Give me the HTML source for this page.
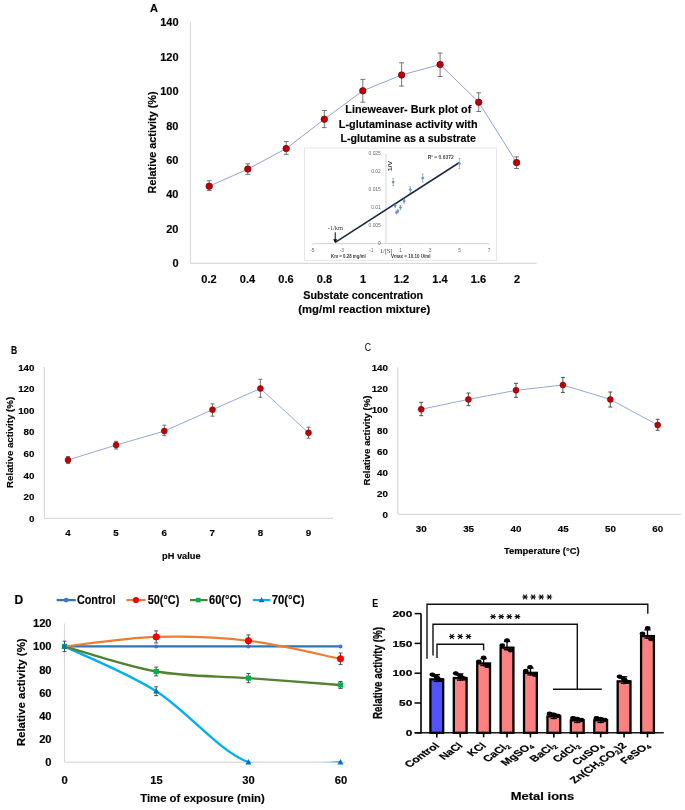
<!DOCTYPE html><html><head><meta charset="utf-8"><style>html,body{margin:0;padding:0;background:#fff;}svg{display:block;font-family:"Liberation Sans", sans-serif;filter:blur(0.35px);}</style></head><body>
<svg width="685" height="810" viewBox="0 0 685 810">
<rect width="685" height="810" fill="#fff"/>
<text x="150.00" y="12.30" font-size="11" text-anchor="start" font-weight="bold" fill="#000" stroke="#000" stroke-width="0.15">A</text>
<text x="178.50" y="267.20" font-size="11" text-anchor="end" font-weight="bold" fill="#000" stroke="#000" stroke-width="0.15">0</text>
<text x="178.50" y="232.80" font-size="11" text-anchor="end" font-weight="bold" fill="#000" stroke="#000" stroke-width="0.15">20</text>
<text x="178.50" y="198.40" font-size="11" text-anchor="end" font-weight="bold" fill="#000" stroke="#000" stroke-width="0.15">40</text>
<text x="178.50" y="164.00" font-size="11" text-anchor="end" font-weight="bold" fill="#000" stroke="#000" stroke-width="0.15">60</text>
<text x="178.50" y="129.60" font-size="11" text-anchor="end" font-weight="bold" fill="#000" stroke="#000" stroke-width="0.15">80</text>
<text x="178.50" y="95.20" font-size="11" text-anchor="end" font-weight="bold" fill="#000" stroke="#000" stroke-width="0.15">100</text>
<text x="178.50" y="60.80" font-size="11" text-anchor="end" font-weight="bold" fill="#000" stroke="#000" stroke-width="0.15">120</text>
<text x="178.50" y="26.40" font-size="11" text-anchor="end" font-weight="bold" fill="#000" stroke="#000" stroke-width="0.15">140</text>
<line x1="190.50" y1="22.00" x2="190.50" y2="263.30" stroke="#d9d9d9" stroke-width="1.2"/>
<line x1="190.50" y1="263.30" x2="536.50" y2="263.30" stroke="#d9d9d9" stroke-width="1.2"/>
<text x="209.00" y="282.80" font-size="11" text-anchor="middle" font-weight="bold" fill="#000" stroke="#000" stroke-width="0.15">0.2</text>
<text x="247.50" y="282.80" font-size="11" text-anchor="middle" font-weight="bold" fill="#000" stroke="#000" stroke-width="0.15">0.4</text>
<text x="286.00" y="282.80" font-size="11" text-anchor="middle" font-weight="bold" fill="#000" stroke="#000" stroke-width="0.15">0.6</text>
<text x="324.50" y="282.80" font-size="11" text-anchor="middle" font-weight="bold" fill="#000" stroke="#000" stroke-width="0.15">0.8</text>
<text x="363.00" y="282.80" font-size="11" text-anchor="middle" font-weight="bold" fill="#000" stroke="#000" stroke-width="0.15">1</text>
<text x="401.50" y="282.80" font-size="11" text-anchor="middle" font-weight="bold" fill="#000" stroke="#000" stroke-width="0.15">1.2</text>
<text x="440.00" y="282.80" font-size="11" text-anchor="middle" font-weight="bold" fill="#000" stroke="#000" stroke-width="0.15">1.4</text>
<text x="478.50" y="282.80" font-size="11" text-anchor="middle" font-weight="bold" fill="#000" stroke="#000" stroke-width="0.15">1.6</text>
<text x="517.00" y="282.80" font-size="11" text-anchor="middle" font-weight="bold" fill="#000" stroke="#000" stroke-width="0.15">2</text>
<text x="155.80" y="142.40" font-size="11.5" text-anchor="middle" font-weight="bold" fill="#000" textLength="102.00" lengthAdjust="spacingAndGlyphs" transform="rotate(-90 155.80 142.40)" stroke="#000" stroke-width="0.15">Relative activity (%)</text>
<text x="363.20" y="298.90" font-size="11.5" text-anchor="middle" font-weight="bold" fill="#000" textLength="120.00" lengthAdjust="spacingAndGlyphs" stroke="#000" stroke-width="0.15">Substate concentration</text>
<text x="364.30" y="312.70" font-size="11.5" text-anchor="middle" font-weight="bold" fill="#000" textLength="132.00" lengthAdjust="spacingAndGlyphs" stroke="#000" stroke-width="0.15">(mg/ml reaction mixture)</text>
<rect x="304.5" y="148" width="192" height="112.3" fill="#fff" stroke="#e6e6e6" stroke-width="1"/>
<line x1="386.00" y1="153.80" x2="386.00" y2="243.60" stroke="#d0d0d0" stroke-width="0.9"/>
<line x1="312.50" y1="243.60" x2="489.00" y2="243.60" stroke="#d0d0d0" stroke-width="0.9"/>
<line x1="312.40" y1="243.60" x2="312.40" y2="245.10" stroke="#d0d0d0" stroke-width="0.6"/>
<line x1="341.84" y1="243.60" x2="341.84" y2="245.10" stroke="#d0d0d0" stroke-width="0.6"/>
<line x1="371.28" y1="243.60" x2="371.28" y2="245.10" stroke="#d0d0d0" stroke-width="0.6"/>
<line x1="400.72" y1="243.60" x2="400.72" y2="245.10" stroke="#d0d0d0" stroke-width="0.6"/>
<line x1="430.16" y1="243.60" x2="430.16" y2="245.10" stroke="#d0d0d0" stroke-width="0.6"/>
<line x1="459.60" y1="243.60" x2="459.60" y2="245.10" stroke="#d0d0d0" stroke-width="0.6"/>
<line x1="489.04" y1="243.60" x2="489.04" y2="245.10" stroke="#d0d0d0" stroke-width="0.6"/>
<text x="380.80" y="244.85" font-size="4.9" text-anchor="end" font-weight="normal" fill="#6a6a6a">0</text>
<text x="380.80" y="226.85" font-size="4.9" text-anchor="end" font-weight="normal" fill="#6a6a6a">0.005</text>
<text x="380.80" y="208.85" font-size="4.9" text-anchor="end" font-weight="normal" fill="#6a6a6a">0.01</text>
<text x="380.80" y="190.85" font-size="4.9" text-anchor="end" font-weight="normal" fill="#6a6a6a">0.015</text>
<text x="380.80" y="172.85" font-size="4.9" text-anchor="end" font-weight="normal" fill="#6a6a6a">0.02</text>
<text x="380.80" y="154.85" font-size="4.9" text-anchor="end" font-weight="normal" fill="#6a6a6a">0.025</text>
<text x="312.40" y="252.20" font-size="4.9" text-anchor="middle" font-weight="normal" fill="#6a6a6a">-5</text>
<text x="341.84" y="252.20" font-size="4.9" text-anchor="middle" font-weight="normal" fill="#6a6a6a">-3</text>
<text x="371.28" y="252.20" font-size="4.9" text-anchor="middle" font-weight="normal" fill="#6a6a6a">-1</text>
<text x="400.72" y="252.20" font-size="4.9" text-anchor="middle" font-weight="normal" fill="#6a6a6a">1</text>
<text x="430.16" y="252.20" font-size="4.9" text-anchor="middle" font-weight="normal" fill="#6a6a6a">3</text>
<text x="459.60" y="252.20" font-size="4.9" text-anchor="middle" font-weight="normal" fill="#6a6a6a">5</text>
<text x="489.04" y="252.20" font-size="4.9" text-anchor="middle" font-weight="normal" fill="#6a6a6a">7</text>
<text x="386.20" y="253.20" font-size="6.0" text-anchor="middle" font-weight="normal" fill="#3a3a3a" textLength="12.30" lengthAdjust="spacingAndGlyphs" font-family="Liberation Serif">1/[S]</text>
<text x="392.30" y="166.10" font-size="6.0" text-anchor="middle" font-weight="bold" fill="#3a3a3a" textLength="10.50" lengthAdjust="spacingAndGlyphs" transform="rotate(-90 392.30 166.10)">1/V</text>
<text x="440.70" y="159.30" font-size="5.0" text-anchor="middle" font-weight="bold" fill="#4a4a4a" textLength="26.00" lengthAdjust="spacingAndGlyphs">R² = 0.6372</text>
<text x="335.40" y="230.00" font-size="6.0" text-anchor="middle" font-weight="normal" fill="#3a3a3a" textLength="15.30" lengthAdjust="spacingAndGlyphs" font-family="Liberation Serif">-1/km</text>
<text x="348.40" y="258.00" font-size="4.6" text-anchor="middle" font-weight="bold" fill="#3a3a3a" textLength="34.70" lengthAdjust="spacingAndGlyphs">Km = 0.28 mg/ml</text>
<text x="410.70" y="258.30" font-size="4.6" text-anchor="middle" font-weight="bold" fill="#3a3a3a" textLength="39.40" lengthAdjust="spacingAndGlyphs">Vmax = 10.10 U/ml</text>
<line x1="335.20" y1="232.30" x2="335.20" y2="240.20" stroke="#000" stroke-width="1.0"/>
<path d="M333.2,239.2 L337.2,239.2 L335.2,243.2 Z" fill="#000"/>
<line x1="393.20" y1="178.60" x2="393.20" y2="185.60" stroke="#808080" stroke-width="0.6"/>
<line x1="392.30" y1="178.60" x2="394.10" y2="178.60" stroke="#808080" stroke-width="0.6"/>
<line x1="392.30" y1="185.60" x2="394.10" y2="185.60" stroke="#808080" stroke-width="0.6"/>
<line x1="395.20" y1="203.80" x2="395.20" y2="207.40" stroke="#808080" stroke-width="0.6"/>
<line x1="394.30" y1="203.80" x2="396.10" y2="203.80" stroke="#808080" stroke-width="0.6"/>
<line x1="394.30" y1="207.40" x2="396.10" y2="207.40" stroke="#808080" stroke-width="0.6"/>
<line x1="396.50" y1="210.90" x2="396.50" y2="213.90" stroke="#808080" stroke-width="0.6"/>
<line x1="395.60" y1="210.90" x2="397.40" y2="210.90" stroke="#808080" stroke-width="0.6"/>
<line x1="395.60" y1="213.90" x2="397.40" y2="213.90" stroke="#808080" stroke-width="0.6"/>
<line x1="397.80" y1="209.70" x2="397.80" y2="212.70" stroke="#808080" stroke-width="0.6"/>
<line x1="396.90" y1="209.70" x2="398.70" y2="209.70" stroke="#808080" stroke-width="0.6"/>
<line x1="396.90" y1="212.70" x2="398.70" y2="212.70" stroke="#808080" stroke-width="0.6"/>
<line x1="400.50" y1="205.40" x2="400.50" y2="209.40" stroke="#808080" stroke-width="0.6"/>
<line x1="399.60" y1="205.40" x2="401.40" y2="205.40" stroke="#808080" stroke-width="0.6"/>
<line x1="399.60" y1="209.40" x2="401.40" y2="209.40" stroke="#808080" stroke-width="0.6"/>
<line x1="404.10" y1="198.80" x2="404.10" y2="203.20" stroke="#808080" stroke-width="0.6"/>
<line x1="403.20" y1="198.80" x2="405.00" y2="198.80" stroke="#808080" stroke-width="0.6"/>
<line x1="403.20" y1="203.20" x2="405.00" y2="203.20" stroke="#808080" stroke-width="0.6"/>
<line x1="410.30" y1="186.70" x2="410.30" y2="192.70" stroke="#808080" stroke-width="0.6"/>
<line x1="409.40" y1="186.70" x2="411.20" y2="186.70" stroke="#808080" stroke-width="0.6"/>
<line x1="409.40" y1="192.70" x2="411.20" y2="192.70" stroke="#808080" stroke-width="0.6"/>
<line x1="422.70" y1="174.00" x2="422.70" y2="182.00" stroke="#808080" stroke-width="0.6"/>
<line x1="421.80" y1="174.00" x2="423.60" y2="174.00" stroke="#808080" stroke-width="0.6"/>
<line x1="421.80" y1="182.00" x2="423.60" y2="182.00" stroke="#808080" stroke-width="0.6"/>
<line x1="459.40" y1="158.40" x2="459.40" y2="168.40" stroke="#808080" stroke-width="0.6"/>
<line x1="458.50" y1="158.40" x2="460.30" y2="158.40" stroke="#808080" stroke-width="0.6"/>
<line x1="458.50" y1="168.40" x2="460.30" y2="168.40" stroke="#808080" stroke-width="0.6"/>
<line x1="335.20" y1="242.40" x2="459.40" y2="162.50" stroke="#1c2a40" stroke-width="1.6"/>
<rect x="392.00" y="180.90" width="2.4" height="2.4" fill="#5b9bd5" transform="rotate(45 393.20 182.10)"/>
<rect x="394.00" y="204.40" width="2.4" height="2.4" fill="#5b9bd5" transform="rotate(45 395.20 205.60)"/>
<rect x="395.30" y="211.20" width="2.4" height="2.4" fill="#5b9bd5" transform="rotate(45 396.50 212.40)"/>
<rect x="396.60" y="210.00" width="2.4" height="2.4" fill="#5b9bd5" transform="rotate(45 397.80 211.20)"/>
<rect x="399.30" y="206.20" width="2.4" height="2.4" fill="#5b9bd5" transform="rotate(45 400.50 207.40)"/>
<rect x="402.90" y="199.80" width="2.4" height="2.4" fill="#5b9bd5" transform="rotate(45 404.10 201.00)"/>
<rect x="409.10" y="188.50" width="2.4" height="2.4" fill="#5b9bd5" transform="rotate(45 410.30 189.70)"/>
<rect x="421.50" y="176.80" width="2.4" height="2.4" fill="#5b9bd5" transform="rotate(45 422.70 178.00)"/>
<rect x="458.20" y="162.20" width="2.4" height="2.4" fill="#5b9bd5" transform="rotate(45 459.40 163.40)"/>
<polyline points="209.20,186.20 247.80,169.10 286.20,148.60 324.30,119.20 362.80,90.80 401.60,75.00 440.10,64.50 478.70,102.20 516.60,162.60" fill="none" stroke="#8ea3d4" stroke-width="1.0" stroke-linejoin="round"/>
<line x1="209.20" y1="180.70" x2="209.20" y2="190.60" stroke="#666666" stroke-width="0.9"/>
<line x1="206.80" y1="180.70" x2="211.60" y2="180.70" stroke="#666666" stroke-width="0.9"/>
<line x1="206.80" y1="190.60" x2="211.60" y2="190.60" stroke="#666666" stroke-width="0.9"/>
<line x1="247.80" y1="163.80" x2="247.80" y2="174.40" stroke="#666666" stroke-width="0.9"/>
<line x1="245.40" y1="163.80" x2="250.20" y2="163.80" stroke="#666666" stroke-width="0.9"/>
<line x1="245.40" y1="174.40" x2="250.20" y2="174.40" stroke="#666666" stroke-width="0.9"/>
<line x1="286.20" y1="141.50" x2="286.20" y2="154.40" stroke="#666666" stroke-width="0.9"/>
<line x1="283.80" y1="141.50" x2="288.60" y2="141.50" stroke="#666666" stroke-width="0.9"/>
<line x1="283.80" y1="154.40" x2="288.60" y2="154.40" stroke="#666666" stroke-width="0.9"/>
<line x1="324.30" y1="110.50" x2="324.30" y2="127.60" stroke="#666666" stroke-width="0.9"/>
<line x1="321.90" y1="110.50" x2="326.70" y2="110.50" stroke="#666666" stroke-width="0.9"/>
<line x1="321.90" y1="127.60" x2="326.70" y2="127.60" stroke="#666666" stroke-width="0.9"/>
<line x1="362.80" y1="79.40" x2="362.80" y2="102.20" stroke="#666666" stroke-width="0.9"/>
<line x1="360.40" y1="79.40" x2="365.20" y2="79.40" stroke="#666666" stroke-width="0.9"/>
<line x1="360.40" y1="102.20" x2="365.20" y2="102.20" stroke="#666666" stroke-width="0.9"/>
<line x1="401.60" y1="62.80" x2="401.60" y2="86.10" stroke="#666666" stroke-width="0.9"/>
<line x1="399.20" y1="62.80" x2="404.00" y2="62.80" stroke="#666666" stroke-width="0.9"/>
<line x1="399.20" y1="86.10" x2="404.00" y2="86.10" stroke="#666666" stroke-width="0.9"/>
<line x1="440.10" y1="53.10" x2="440.10" y2="76.50" stroke="#666666" stroke-width="0.9"/>
<line x1="437.70" y1="53.10" x2="442.50" y2="53.10" stroke="#666666" stroke-width="0.9"/>
<line x1="437.70" y1="76.50" x2="442.50" y2="76.50" stroke="#666666" stroke-width="0.9"/>
<line x1="478.70" y1="92.80" x2="478.70" y2="111.50" stroke="#666666" stroke-width="0.9"/>
<line x1="476.30" y1="92.80" x2="481.10" y2="92.80" stroke="#666666" stroke-width="0.9"/>
<line x1="476.30" y1="111.50" x2="481.10" y2="111.50" stroke="#666666" stroke-width="0.9"/>
<line x1="516.60" y1="156.80" x2="516.60" y2="168.50" stroke="#666666" stroke-width="0.9"/>
<line x1="514.20" y1="156.80" x2="519.00" y2="156.80" stroke="#666666" stroke-width="0.9"/>
<line x1="514.20" y1="168.50" x2="519.00" y2="168.50" stroke="#666666" stroke-width="0.9"/>
<circle cx="209.20" cy="186.20" r="3.25" fill="#c00000" stroke="#6a0010" stroke-width="0.7"/>
<circle cx="247.80" cy="169.10" r="3.25" fill="#c00000" stroke="#6a0010" stroke-width="0.7"/>
<circle cx="286.20" cy="148.60" r="3.25" fill="#c00000" stroke="#6a0010" stroke-width="0.7"/>
<circle cx="324.30" cy="119.20" r="3.25" fill="#c00000" stroke="#6a0010" stroke-width="0.7"/>
<circle cx="362.80" cy="90.80" r="3.25" fill="#c00000" stroke="#6a0010" stroke-width="0.7"/>
<circle cx="401.60" cy="75.00" r="3.25" fill="#c00000" stroke="#6a0010" stroke-width="0.7"/>
<circle cx="440.10" cy="64.50" r="3.25" fill="#c00000" stroke="#6a0010" stroke-width="0.7"/>
<circle cx="478.70" cy="102.20" r="3.25" fill="#c00000" stroke="#6a0010" stroke-width="0.7"/>
<circle cx="516.60" cy="162.60" r="3.25" fill="#c00000" stroke="#6a0010" stroke-width="0.7"/>
<text x="408.30" y="112.50" font-size="11.5" text-anchor="middle" font-weight="bold" fill="#000" textLength="126.00" lengthAdjust="spacingAndGlyphs" stroke="#000" stroke-width="0.15">Lineweaver- Burk plot of</text>
<text x="408.20" y="127.70" font-size="11.5" text-anchor="middle" font-weight="bold" fill="#000" textLength="138.70" lengthAdjust="spacingAndGlyphs" stroke="#000" stroke-width="0.15">L-glutaminase activity with</text>
<text x="408.20" y="141.70" font-size="11.5" text-anchor="middle" font-weight="bold" fill="#000" textLength="135.50" lengthAdjust="spacingAndGlyphs" stroke="#000" stroke-width="0.15">L-glutamine as a substrate</text>
<text x="11.10" y="353.80" font-size="11.2" text-anchor="start" font-weight="bold" fill="#000" textLength="6.20" lengthAdjust="spacingAndGlyphs" stroke="#000" stroke-width="0.15">B</text>
<text x="34.50" y="521.80" font-size="9.8" text-anchor="end" font-weight="bold" fill="#000" stroke="#000" stroke-width="0.15">0</text>
<text x="34.50" y="500.20" font-size="9.8" text-anchor="end" font-weight="bold" fill="#000" stroke="#000" stroke-width="0.15">20</text>
<text x="34.50" y="478.60" font-size="9.8" text-anchor="end" font-weight="bold" fill="#000" stroke="#000" stroke-width="0.15">40</text>
<text x="34.50" y="457.00" font-size="9.8" text-anchor="end" font-weight="bold" fill="#000" stroke="#000" stroke-width="0.15">60</text>
<text x="34.50" y="435.40" font-size="9.8" text-anchor="end" font-weight="bold" fill="#000" stroke="#000" stroke-width="0.15">80</text>
<text x="34.50" y="413.80" font-size="9.8" text-anchor="end" font-weight="bold" fill="#000" stroke="#000" stroke-width="0.15">100</text>
<text x="34.50" y="392.20" font-size="9.8" text-anchor="end" font-weight="bold" fill="#000" stroke="#000" stroke-width="0.15">120</text>
<text x="34.50" y="370.60" font-size="9.8" text-anchor="end" font-weight="bold" fill="#000" stroke="#000" stroke-width="0.15">140</text>
<line x1="44.40" y1="367.00" x2="44.40" y2="518.30" stroke="#d9d9d9" stroke-width="1.2"/>
<line x1="44.40" y1="518.30" x2="333.00" y2="518.30" stroke="#d9d9d9" stroke-width="1.2"/>
<text x="68.00" y="536.10" font-size="9.8" text-anchor="middle" font-weight="bold" fill="#000" stroke="#000" stroke-width="0.15">4</text>
<text x="116.10" y="536.10" font-size="9.8" text-anchor="middle" font-weight="bold" fill="#000" stroke="#000" stroke-width="0.15">5</text>
<text x="164.20" y="536.10" font-size="9.8" text-anchor="middle" font-weight="bold" fill="#000" stroke="#000" stroke-width="0.15">6</text>
<text x="212.30" y="536.10" font-size="9.8" text-anchor="middle" font-weight="bold" fill="#000" stroke="#000" stroke-width="0.15">7</text>
<text x="260.40" y="536.10" font-size="9.8" text-anchor="middle" font-weight="bold" fill="#000" stroke="#000" stroke-width="0.15">8</text>
<text x="308.50" y="536.10" font-size="9.8" text-anchor="middle" font-weight="bold" fill="#000" stroke="#000" stroke-width="0.15">9</text>
<text x="181.30" y="558.80" font-size="9.8" text-anchor="middle" font-weight="bold" fill="#000" textLength="38.50" lengthAdjust="spacingAndGlyphs" stroke="#000" stroke-width="0.15">pH value</text>
<text x="12.80" y="442.40" font-size="9.5" text-anchor="middle" font-weight="bold" fill="#000" textLength="91.00" lengthAdjust="spacingAndGlyphs" transform="rotate(-90 12.80 442.40)" stroke="#000" stroke-width="0.15">Relative activity (%)</text>
<polyline points="68.00,460.00 116.10,445.10 164.30,431.10 212.50,409.70 260.40,388.50 308.50,432.80" fill="none" stroke="#8ea3d4" stroke-width="0.95" stroke-linejoin="round"/>
<line x1="68.00" y1="456.50" x2="68.00" y2="463.50" stroke="#666666" stroke-width="0.9"/>
<line x1="66.00" y1="456.50" x2="70.00" y2="456.50" stroke="#666666" stroke-width="0.9"/>
<line x1="66.00" y1="463.50" x2="70.00" y2="463.50" stroke="#666666" stroke-width="0.9"/>
<line x1="116.10" y1="441.30" x2="116.10" y2="449.00" stroke="#666666" stroke-width="0.9"/>
<line x1="114.10" y1="441.30" x2="118.10" y2="441.30" stroke="#666666" stroke-width="0.9"/>
<line x1="114.10" y1="449.00" x2="118.10" y2="449.00" stroke="#666666" stroke-width="0.9"/>
<line x1="164.30" y1="425.20" x2="164.30" y2="435.70" stroke="#666666" stroke-width="0.9"/>
<line x1="162.30" y1="425.20" x2="166.30" y2="425.20" stroke="#666666" stroke-width="0.9"/>
<line x1="162.30" y1="435.70" x2="166.30" y2="435.70" stroke="#666666" stroke-width="0.9"/>
<line x1="212.50" y1="403.90" x2="212.50" y2="416.20" stroke="#666666" stroke-width="0.9"/>
<line x1="210.50" y1="403.90" x2="214.50" y2="403.90" stroke="#666666" stroke-width="0.9"/>
<line x1="210.50" y1="416.20" x2="214.50" y2="416.20" stroke="#666666" stroke-width="0.9"/>
<line x1="260.40" y1="379.30" x2="260.40" y2="397.30" stroke="#666666" stroke-width="0.9"/>
<line x1="258.40" y1="379.30" x2="262.40" y2="379.30" stroke="#666666" stroke-width="0.9"/>
<line x1="258.40" y1="397.30" x2="262.40" y2="397.30" stroke="#666666" stroke-width="0.9"/>
<line x1="308.50" y1="427.20" x2="308.50" y2="438.20" stroke="#666666" stroke-width="0.9"/>
<line x1="306.50" y1="427.20" x2="310.50" y2="427.20" stroke="#666666" stroke-width="0.9"/>
<line x1="306.50" y1="438.20" x2="310.50" y2="438.20" stroke="#666666" stroke-width="0.9"/>
<circle cx="68.00" cy="460.00" r="3.0" fill="#c00000" stroke="#6a0010" stroke-width="0.5"/>
<circle cx="116.10" cy="445.10" r="3.0" fill="#c00000" stroke="#6a0010" stroke-width="0.5"/>
<circle cx="164.30" cy="431.10" r="3.0" fill="#c00000" stroke="#6a0010" stroke-width="0.5"/>
<circle cx="212.50" cy="409.70" r="3.0" fill="#c00000" stroke="#6a0010" stroke-width="0.5"/>
<circle cx="260.40" cy="388.50" r="3.0" fill="#c00000" stroke="#6a0010" stroke-width="0.5"/>
<circle cx="308.50" cy="432.80" r="3.0" fill="#c00000" stroke="#6a0010" stroke-width="0.5"/>
<text x="364.80" y="350.90" font-size="11.2" text-anchor="start" font-weight="normal" fill="#000" textLength="6.30" lengthAdjust="spacingAndGlyphs">C</text>
<text x="388.00" y="517.80" font-size="9.8" text-anchor="end" font-weight="bold" fill="#000" stroke="#000" stroke-width="0.15">0</text>
<text x="388.00" y="496.80" font-size="9.8" text-anchor="end" font-weight="bold" fill="#000" stroke="#000" stroke-width="0.15">20</text>
<text x="388.00" y="475.80" font-size="9.8" text-anchor="end" font-weight="bold" fill="#000" stroke="#000" stroke-width="0.15">40</text>
<text x="388.00" y="454.80" font-size="9.8" text-anchor="end" font-weight="bold" fill="#000" stroke="#000" stroke-width="0.15">60</text>
<text x="388.00" y="433.80" font-size="9.8" text-anchor="end" font-weight="bold" fill="#000" stroke="#000" stroke-width="0.15">80</text>
<text x="388.00" y="412.80" font-size="9.8" text-anchor="end" font-weight="bold" fill="#000" stroke="#000" stroke-width="0.15">100</text>
<text x="388.00" y="391.80" font-size="9.8" text-anchor="end" font-weight="bold" fill="#000" stroke="#000" stroke-width="0.15">120</text>
<text x="388.00" y="370.80" font-size="9.8" text-anchor="end" font-weight="bold" fill="#000" stroke="#000" stroke-width="0.15">140</text>
<line x1="397.80" y1="367.30" x2="397.80" y2="514.30" stroke="#d9d9d9" stroke-width="1.2"/>
<line x1="397.80" y1="514.30" x2="681.00" y2="514.30" stroke="#d9d9d9" stroke-width="1.2"/>
<text x="421.30" y="532.00" font-size="9.8" text-anchor="middle" font-weight="bold" fill="#000" stroke="#000" stroke-width="0.15">30</text>
<text x="468.60" y="532.00" font-size="9.8" text-anchor="middle" font-weight="bold" fill="#000" stroke="#000" stroke-width="0.15">35</text>
<text x="515.90" y="532.00" font-size="9.8" text-anchor="middle" font-weight="bold" fill="#000" stroke="#000" stroke-width="0.15">40</text>
<text x="563.20" y="532.00" font-size="9.8" text-anchor="middle" font-weight="bold" fill="#000" stroke="#000" stroke-width="0.15">45</text>
<text x="610.50" y="532.00" font-size="9.8" text-anchor="middle" font-weight="bold" fill="#000" stroke="#000" stroke-width="0.15">50</text>
<text x="657.80" y="532.00" font-size="9.8" text-anchor="middle" font-weight="bold" fill="#000" stroke="#000" stroke-width="0.15">60</text>
<text x="541.80" y="553.50" font-size="9.8" text-anchor="middle" font-weight="bold" fill="#000" textLength="75.70" lengthAdjust="spacingAndGlyphs" stroke="#000" stroke-width="0.15">Temperature (°C)</text>
<text x="369.60" y="440.50" font-size="9.5" text-anchor="middle" font-weight="bold" fill="#000" textLength="90.00" lengthAdjust="spacingAndGlyphs" transform="rotate(-90 369.60 440.50)" stroke="#000" stroke-width="0.15">Relative activity (%)</text>
<polyline points="421.20,409.30 468.40,399.40 516.00,390.30 562.90,385.00 610.30,399.40 657.70,425.00" fill="none" stroke="#8ea3d4" stroke-width="0.95" stroke-linejoin="round"/>
<line x1="421.20" y1="402.30" x2="421.20" y2="415.70" stroke="#404040" stroke-width="0.9"/>
<line x1="419.20" y1="402.30" x2="423.20" y2="402.30" stroke="#404040" stroke-width="0.9"/>
<line x1="419.20" y1="415.70" x2="423.20" y2="415.70" stroke="#404040" stroke-width="0.9"/>
<line x1="468.40" y1="393.00" x2="468.40" y2="405.70" stroke="#404040" stroke-width="0.9"/>
<line x1="466.40" y1="393.00" x2="470.40" y2="393.00" stroke="#404040" stroke-width="0.9"/>
<line x1="466.40" y1="405.70" x2="470.40" y2="405.70" stroke="#404040" stroke-width="0.9"/>
<line x1="516.00" y1="383.30" x2="516.00" y2="397.30" stroke="#404040" stroke-width="0.9"/>
<line x1="514.00" y1="383.30" x2="518.00" y2="383.30" stroke="#404040" stroke-width="0.9"/>
<line x1="514.00" y1="397.30" x2="518.00" y2="397.30" stroke="#404040" stroke-width="0.9"/>
<line x1="562.90" y1="377.40" x2="562.90" y2="392.40" stroke="#404040" stroke-width="0.9"/>
<line x1="560.90" y1="377.40" x2="564.90" y2="377.40" stroke="#404040" stroke-width="0.9"/>
<line x1="560.90" y1="392.40" x2="564.90" y2="392.40" stroke="#404040" stroke-width="0.9"/>
<line x1="610.30" y1="392.00" x2="610.30" y2="407.00" stroke="#404040" stroke-width="0.9"/>
<line x1="608.30" y1="392.00" x2="612.30" y2="392.00" stroke="#404040" stroke-width="0.9"/>
<line x1="608.30" y1="407.00" x2="612.30" y2="407.00" stroke="#404040" stroke-width="0.9"/>
<line x1="657.70" y1="419.30" x2="657.70" y2="430.30" stroke="#404040" stroke-width="0.9"/>
<line x1="655.70" y1="419.30" x2="659.70" y2="419.30" stroke="#404040" stroke-width="0.9"/>
<line x1="655.70" y1="430.30" x2="659.70" y2="430.30" stroke="#404040" stroke-width="0.9"/>
<circle cx="421.20" cy="409.30" r="3.0" fill="#c00000" stroke="#6a0010" stroke-width="0.5"/>
<circle cx="468.40" cy="399.40" r="3.0" fill="#c00000" stroke="#6a0010" stroke-width="0.5"/>
<circle cx="516.00" cy="390.30" r="3.0" fill="#c00000" stroke="#6a0010" stroke-width="0.5"/>
<circle cx="562.90" cy="385.00" r="3.0" fill="#c00000" stroke="#6a0010" stroke-width="0.5"/>
<circle cx="610.30" cy="399.40" r="3.0" fill="#c00000" stroke="#6a0010" stroke-width="0.5"/>
<circle cx="657.70" cy="425.00" r="3.0" fill="#c00000" stroke="#6a0010" stroke-width="0.5"/>
<text x="14.40" y="604.10" font-size="12" text-anchor="start" font-weight="bold" fill="#000" stroke="#000" stroke-width="0.15">D</text>
<line x1="56.60" y1="600.10" x2="75.70" y2="600.10" stroke="#2e75b6" stroke-width="2.3"/>
<circle cx="66.20" cy="600.10" r="2.3" fill="#4472c4"/>
<text x="76.90" y="604.10" font-size="12" text-anchor="start" font-weight="bold" fill="#000" textLength="38.50" lengthAdjust="spacingAndGlyphs" stroke="#000" stroke-width="0.15">Control</text>
<line x1="126.40" y1="600.10" x2="145.70" y2="600.10" stroke="#ed7d31" stroke-width="2.2"/>
<circle cx="136.00" cy="600.10" r="2.8" fill="#ff0000" stroke="#c00000" stroke-width="0.6"/>
<text x="147.70" y="604.10" font-size="12" text-anchor="start" font-weight="bold" fill="#000" textLength="31.60" lengthAdjust="spacingAndGlyphs" stroke="#000" stroke-width="0.15">50(°C)</text>
<line x1="190.00" y1="600.10" x2="207.60" y2="600.10" stroke="#548235" stroke-width="2.2"/>
<rect x="195.90" y="597.80" width="4.6" height="4.6" fill="#00b050"/>
<text x="209.00" y="604.10" font-size="12" text-anchor="start" font-weight="bold" fill="#000" textLength="32.20" lengthAdjust="spacingAndGlyphs" stroke="#000" stroke-width="0.15">60(°C)</text>
<line x1="252.80" y1="600.10" x2="270.40" y2="600.10" stroke="#00b0f0" stroke-width="2.2"/>
<path d="M261.6,597.30 L264.6,602.30 L258.6,602.30 Z" fill="#0070c0"/>
<text x="271.80" y="604.10" font-size="12" text-anchor="start" font-weight="bold" fill="#000" textLength="32.70" lengthAdjust="spacingAndGlyphs" stroke="#000" stroke-width="0.15">70(°C)</text>
<text x="51.60" y="766.20" font-size="11.2" text-anchor="end" font-weight="bold" fill="#000" stroke="#000" stroke-width="0.15">0</text>
<text x="51.60" y="743.04" font-size="11.2" text-anchor="end" font-weight="bold" fill="#000" stroke="#000" stroke-width="0.15">20</text>
<text x="51.60" y="719.88" font-size="11.2" text-anchor="end" font-weight="bold" fill="#000" stroke="#000" stroke-width="0.15">40</text>
<text x="51.60" y="696.72" font-size="11.2" text-anchor="end" font-weight="bold" fill="#000" stroke="#000" stroke-width="0.15">60</text>
<text x="51.60" y="673.56" font-size="11.2" text-anchor="end" font-weight="bold" fill="#000" stroke="#000" stroke-width="0.15">80</text>
<text x="51.60" y="650.40" font-size="11.2" text-anchor="end" font-weight="bold" fill="#000" stroke="#000" stroke-width="0.15">100</text>
<text x="51.60" y="627.24" font-size="11.2" text-anchor="end" font-weight="bold" fill="#000" stroke="#000" stroke-width="0.15">120</text>
<line x1="64.50" y1="623.50" x2="64.50" y2="762.20" stroke="#d9d9d9" stroke-width="1.2"/>
<line x1="64.50" y1="762.20" x2="345.00" y2="762.20" stroke="#d9d9d9" stroke-width="1.2"/>
<text x="64.60" y="783.60" font-size="11.2" text-anchor="middle" font-weight="bold" fill="#000" stroke="#000" stroke-width="0.15">0</text>
<text x="156.60" y="783.60" font-size="11.2" text-anchor="middle" font-weight="bold" fill="#000" stroke="#000" stroke-width="0.15">15</text>
<text x="248.40" y="783.60" font-size="11.2" text-anchor="middle" font-weight="bold" fill="#000" stroke="#000" stroke-width="0.15">30</text>
<text x="340.90" y="783.60" font-size="11.2" text-anchor="middle" font-weight="bold" fill="#000" stroke="#000" stroke-width="0.15">60</text>
<text x="202.50" y="802.00" font-size="11.5" text-anchor="middle" font-weight="bold" fill="#000" textLength="124.60" lengthAdjust="spacingAndGlyphs" stroke="#000" stroke-width="0.15">Time of exposure (min)</text>
<text x="25.20" y="692.30" font-size="11.5" text-anchor="middle" font-weight="bold" fill="#000" textLength="108.00" lengthAdjust="spacingAndGlyphs" transform="rotate(-90 25.20 692.30)" stroke="#000" stroke-width="0.15">Relative activity (%)</text>
<defs><clipPath id="clipD"><rect x="40" y="615" width="305" height="147.2"/></clipPath></defs>
<g clip-path="url(#clipD)">
<path d="M64.50,646.40 C79.78,653.87 125.55,671.91 156.20,691.21 C186.85,710.51 217.68,750.37 248.40,762.20 C279.12,774.03 325.15,762.20 340.50,762.20" fill="none" stroke="#00b0f0" stroke-width="2.4" stroke-linecap="round"/>
<path d="M64.50,646.40 C79.78,650.59 125.55,666.24 156.20,671.53 C186.85,676.82 217.68,675.89 248.40,678.13 C279.12,680.37 325.15,683.82 340.50,684.96" fill="none" stroke="#548235" stroke-width="2.4" stroke-linecap="round"/>
<line x1="64.50" y1="646.40" x2="340.50" y2="646.40" stroke="#2e75b6" stroke-width="2.4"/>
<path d="M64.50,646.40 C79.78,644.82 125.55,637.85 156.20,636.90 C186.85,635.96 217.68,637.08 248.40,640.73 C279.12,644.37 325.15,655.78 340.50,658.79" fill="none" stroke="#ed7d31" stroke-width="2.2" stroke-linecap="round"/>
</g>
<line x1="156.20" y1="630.88" x2="156.20" y2="642.93" stroke="#404040" stroke-width="0.9"/>
<line x1="154.20" y1="630.88" x2="158.20" y2="630.88" stroke="#404040" stroke-width="0.9"/>
<line x1="154.20" y1="642.93" x2="158.20" y2="642.93" stroke="#404040" stroke-width="0.9"/>
<line x1="248.40" y1="634.94" x2="248.40" y2="646.52" stroke="#404040" stroke-width="0.9"/>
<line x1="246.40" y1="634.94" x2="250.40" y2="634.94" stroke="#404040" stroke-width="0.9"/>
<line x1="246.40" y1="646.52" x2="250.40" y2="646.52" stroke="#404040" stroke-width="0.9"/>
<line x1="340.50" y1="653.00" x2="340.50" y2="664.58" stroke="#404040" stroke-width="0.9"/>
<line x1="338.50" y1="653.00" x2="342.50" y2="653.00" stroke="#404040" stroke-width="0.9"/>
<line x1="338.50" y1="664.58" x2="342.50" y2="664.58" stroke="#404040" stroke-width="0.9"/>
<line x1="156.20" y1="667.13" x2="156.20" y2="675.93" stroke="#404040" stroke-width="0.9"/>
<line x1="154.20" y1="667.13" x2="158.20" y2="667.13" stroke="#404040" stroke-width="0.9"/>
<line x1="154.20" y1="675.93" x2="158.20" y2="675.93" stroke="#404040" stroke-width="0.9"/>
<line x1="248.40" y1="673.50" x2="248.40" y2="682.76" stroke="#404040" stroke-width="0.9"/>
<line x1="246.40" y1="673.50" x2="250.40" y2="673.50" stroke="#404040" stroke-width="0.9"/>
<line x1="246.40" y1="682.76" x2="250.40" y2="682.76" stroke="#404040" stroke-width="0.9"/>
<line x1="340.50" y1="681.49" x2="340.50" y2="688.44" stroke="#404040" stroke-width="0.9"/>
<line x1="338.50" y1="681.49" x2="342.50" y2="681.49" stroke="#404040" stroke-width="0.9"/>
<line x1="338.50" y1="688.44" x2="342.50" y2="688.44" stroke="#404040" stroke-width="0.9"/>
<line x1="156.20" y1="686.81" x2="156.20" y2="695.62" stroke="#404040" stroke-width="0.9"/>
<line x1="154.20" y1="686.81" x2="158.20" y2="686.81" stroke="#404040" stroke-width="0.9"/>
<line x1="154.20" y1="695.62" x2="158.20" y2="695.62" stroke="#404040" stroke-width="0.9"/>
<line x1="64.50" y1="641.19" x2="64.50" y2="651.61" stroke="#404040" stroke-width="0.9"/>
<line x1="62.50" y1="641.19" x2="66.50" y2="641.19" stroke="#404040" stroke-width="0.9"/>
<line x1="62.50" y1="651.61" x2="66.50" y2="651.61" stroke="#404040" stroke-width="0.9"/>
<circle cx="64.50" cy="646.40" r="2.0" fill="#4472c4"/>
<circle cx="156.20" cy="646.40" r="2.0" fill="#4472c4"/>
<circle cx="248.40" cy="646.40" r="2.0" fill="#4472c4"/>
<circle cx="340.50" cy="646.40" r="2.0" fill="#4472c4"/>
<circle cx="156.20" cy="636.90" r="3.2" fill="#ff0000" stroke="#c00000" stroke-width="0.7"/>
<circle cx="248.40" cy="640.73" r="3.2" fill="#ff0000" stroke="#c00000" stroke-width="0.7"/>
<circle cx="340.50" cy="658.79" r="3.2" fill="#ff0000" stroke="#c00000" stroke-width="0.7"/>
<rect x="61.90" y="643.80" width="5.2" height="5.2" fill="#00b050"/>
<rect x="153.60" y="668.93" width="5.2" height="5.2" fill="#00b050"/>
<rect x="245.80" y="675.53" width="5.2" height="5.2" fill="#00b050"/>
<rect x="337.90" y="682.36" width="5.2" height="5.2" fill="#00b050"/>
<path d="M64.50,643.20 L67.50,648.60 L61.50,648.60 Z" fill="#0070c0"/>
<path d="M156.20,688.01 L159.20,693.41 L153.20,693.41 Z" fill="#0070c0"/>
<path d="M248.40,759.00 L251.40,764.40 L245.40,764.40 Z" fill="#0070c0"/>
<path d="M340.50,759.00 L343.50,764.40 L337.50,764.40 Z" fill="#0070c0"/>
<text x="372.20" y="607.30" font-size="10.9" text-anchor="start" font-weight="bold" fill="#000" textLength="5.90" lengthAdjust="spacingAndGlyphs" stroke="#000" stroke-width="0.15">E</text>
<line x1="421.00" y1="613.60" x2="421.00" y2="733.70" stroke="#000" stroke-width="1.6"/>
<line x1="414.60" y1="732.80" x2="663.80" y2="732.80" stroke="#1a1a1a" stroke-width="1.6"/>
<line x1="414.60" y1="732.80" x2="421.00" y2="732.80" stroke="#000" stroke-width="1.5"/>
<text x="0" y="0" font-size="9.0" text-anchor="end" font-weight="bold" fill="#000" stroke="#000" stroke-width="0.2" transform="translate(412.30 736.05) scale(1.32 1)">0</text>
<line x1="414.60" y1="703.00" x2="421.00" y2="703.00" stroke="#000" stroke-width="1.5"/>
<text x="0" y="0" font-size="9.0" text-anchor="end" font-weight="bold" fill="#000" stroke="#000" stroke-width="0.2" transform="translate(412.30 706.25) scale(1.32 1)">50</text>
<line x1="414.60" y1="673.20" x2="421.00" y2="673.20" stroke="#000" stroke-width="1.5"/>
<text x="0" y="0" font-size="9.0" text-anchor="end" font-weight="bold" fill="#000" stroke="#000" stroke-width="0.2" transform="translate(412.30 676.45) scale(1.32 1)">100</text>
<line x1="414.60" y1="643.40" x2="421.00" y2="643.40" stroke="#000" stroke-width="1.5"/>
<text x="0" y="0" font-size="9.0" text-anchor="end" font-weight="bold" fill="#000" stroke="#000" stroke-width="0.2" transform="translate(412.30 646.65) scale(1.32 1)">150</text>
<line x1="414.60" y1="613.60" x2="421.00" y2="613.60" stroke="#000" stroke-width="1.5"/>
<text x="0" y="0" font-size="9.0" text-anchor="end" font-weight="bold" fill="#000" stroke="#000" stroke-width="0.2" transform="translate(412.30 616.85) scale(1.32 1)">200</text>
<text x="0" y="0" font-size="9.8" text-anchor="middle" font-weight="bold" fill="#000" stroke="#000" stroke-width="0.2" transform="translate(382.20 673.00) scale(1.22 1) rotate(-90)">Relative activity (%)</text>
<rect x="430.40" y="679.35" width="12.8" height="53.45" fill="#5252ff" stroke="#000" stroke-width="2.3"/>
<line x1="436.80" y1="732.80" x2="436.80" y2="737.40" stroke="#000" stroke-width="1.6"/>
<rect x="453.81" y="678.05" width="12.8" height="54.75" fill="#ff8080" stroke="#000" stroke-width="2.3"/>
<line x1="460.21" y1="732.80" x2="460.21" y2="737.40" stroke="#000" stroke-width="1.6"/>
<rect x="477.22" y="663.45" width="12.8" height="69.35" fill="#ff8080" stroke="#000" stroke-width="2.3"/>
<line x1="483.62" y1="732.80" x2="483.62" y2="737.40" stroke="#000" stroke-width="1.6"/>
<rect x="500.63" y="647.65" width="12.8" height="85.15" fill="#ff8080" stroke="#000" stroke-width="2.3"/>
<line x1="507.03" y1="732.80" x2="507.03" y2="737.40" stroke="#000" stroke-width="1.6"/>
<rect x="524.04" y="672.85" width="12.8" height="59.95" fill="#ff8080" stroke="#000" stroke-width="2.3"/>
<line x1="530.44" y1="732.80" x2="530.44" y2="737.40" stroke="#000" stroke-width="1.6"/>
<rect x="547.45" y="716.45" width="12.8" height="16.35" fill="#ff8080" stroke="#000" stroke-width="2.3"/>
<line x1="553.85" y1="732.80" x2="553.85" y2="737.40" stroke="#000" stroke-width="1.6"/>
<rect x="570.86" y="720.35" width="12.8" height="12.45" fill="#ff8080" stroke="#000" stroke-width="2.3"/>
<line x1="577.26" y1="732.80" x2="577.26" y2="737.40" stroke="#000" stroke-width="1.6"/>
<rect x="594.27" y="720.35" width="12.8" height="12.45" fill="#ff8080" stroke="#000" stroke-width="2.3"/>
<line x1="600.67" y1="732.80" x2="600.67" y2="737.40" stroke="#000" stroke-width="1.6"/>
<rect x="617.68" y="681.35" width="12.8" height="51.45" fill="#ff8080" stroke="#000" stroke-width="2.3"/>
<line x1="624.08" y1="732.80" x2="624.08" y2="737.40" stroke="#000" stroke-width="1.6"/>
<rect x="641.09" y="636.05" width="12.8" height="96.75" fill="#ff8080" stroke="#000" stroke-width="2.3"/>
<line x1="647.49" y1="732.80" x2="647.49" y2="737.40" stroke="#000" stroke-width="1.6"/>
<line x1="436.80" y1="674.60" x2="436.80" y2="682.20" stroke="#000" stroke-width="1.3"/>
<line x1="433.60" y1="674.60" x2="440.00" y2="674.60" stroke="#000" stroke-width="1.3"/>
<line x1="433.60" y1="681.40" x2="440.00" y2="681.40" stroke="#000" stroke-width="1.3"/>
<path d="M432.30,674.60 L437.00,677.30 L440.80,680.00" stroke="#000" stroke-width="3.4" stroke-linecap="round" stroke-linejoin="round" fill="none"/>
<ellipse cx="432.30" cy="674.60" rx="2.8" ry="2.1" fill="#000"/>
<ellipse cx="437.00" cy="677.30" rx="2.8" ry="2.1" fill="#000"/>
<ellipse cx="440.80" cy="680.00" rx="2.8" ry="2.1" fill="#000"/>
<line x1="460.21" y1="673.90" x2="460.21" y2="680.90" stroke="#000" stroke-width="1.3"/>
<line x1="457.01" y1="673.90" x2="463.41" y2="673.90" stroke="#000" stroke-width="1.3"/>
<line x1="457.01" y1="680.10" x2="463.41" y2="680.10" stroke="#000" stroke-width="1.3"/>
<path d="M455.71,673.30 L460.41,675.90 L464.21,678.50" stroke="#000" stroke-width="3.4" stroke-linecap="round" stroke-linejoin="round" fill="none"/>
<ellipse cx="455.71" cy="673.30" rx="2.8" ry="2.1" fill="#000"/>
<ellipse cx="460.41" cy="675.90" rx="2.8" ry="2.1" fill="#000"/>
<ellipse cx="464.21" cy="678.50" rx="2.8" ry="2.1" fill="#000"/>
<line x1="483.62" y1="658.70" x2="483.62" y2="666.30" stroke="#000" stroke-width="1.3"/>
<line x1="480.42" y1="658.70" x2="486.82" y2="658.70" stroke="#000" stroke-width="1.3"/>
<line x1="480.42" y1="665.50" x2="486.82" y2="665.50" stroke="#000" stroke-width="1.3"/>
<ellipse cx="483.62" cy="657.70" rx="2.8" ry="2.1" fill="#000"/>
<ellipse cx="478.82" cy="661.50" rx="2.8" ry="2.1" fill="#000"/>
<ellipse cx="487.02" cy="665.90" rx="2.8" ry="2.1" fill="#000"/>
<line x1="507.03" y1="641.50" x2="507.03" y2="650.50" stroke="#000" stroke-width="1.3"/>
<line x1="503.83" y1="641.50" x2="510.23" y2="641.50" stroke="#000" stroke-width="1.3"/>
<line x1="503.83" y1="649.70" x2="510.23" y2="649.70" stroke="#000" stroke-width="1.3"/>
<ellipse cx="507.03" cy="640.30" rx="2.8" ry="2.1" fill="#000"/>
<ellipse cx="502.23" cy="645.30" rx="2.8" ry="2.1" fill="#000"/>
<ellipse cx="510.43" cy="650.30" rx="2.8" ry="2.1" fill="#000"/>
<line x1="530.44" y1="668.10" x2="530.44" y2="675.70" stroke="#000" stroke-width="1.3"/>
<line x1="527.24" y1="668.10" x2="533.64" y2="668.10" stroke="#000" stroke-width="1.3"/>
<line x1="527.24" y1="674.90" x2="533.64" y2="674.90" stroke="#000" stroke-width="1.3"/>
<ellipse cx="530.04" cy="667.10" rx="2.8" ry="2.1" fill="#000"/>
<ellipse cx="525.74" cy="670.90" rx="2.8" ry="2.1" fill="#000"/>
<ellipse cx="534.54" cy="674.70" rx="2.8" ry="2.1" fill="#000"/>
<line x1="553.85" y1="714.50" x2="553.85" y2="719.30" stroke="#000" stroke-width="1.3"/>
<line x1="550.65" y1="714.50" x2="557.05" y2="714.50" stroke="#000" stroke-width="1.3"/>
<line x1="550.65" y1="718.50" x2="557.05" y2="718.50" stroke="#000" stroke-width="1.3"/>
<path d="M549.55,713.70 L553.85,714.70 L558.15,715.90" stroke="#000" stroke-width="3.4" stroke-linecap="round" stroke-linejoin="round" fill="none"/>
<ellipse cx="549.55" cy="713.70" rx="2.8" ry="2.1" fill="#000"/>
<ellipse cx="553.85" cy="714.70" rx="2.8" ry="2.1" fill="#000"/>
<ellipse cx="558.15" cy="715.90" rx="2.8" ry="2.1" fill="#000"/>
<line x1="577.26" y1="718.60" x2="577.26" y2="723.20" stroke="#000" stroke-width="1.3"/>
<line x1="574.06" y1="718.60" x2="580.46" y2="718.60" stroke="#000" stroke-width="1.3"/>
<line x1="574.06" y1="722.40" x2="580.46" y2="722.40" stroke="#000" stroke-width="1.3"/>
<path d="M572.96,718.00 L577.26,718.80 L581.56,719.80" stroke="#000" stroke-width="3.4" stroke-linecap="round" stroke-linejoin="round" fill="none"/>
<ellipse cx="572.96" cy="718.00" rx="2.8" ry="2.1" fill="#000"/>
<ellipse cx="577.26" cy="718.80" rx="2.8" ry="2.1" fill="#000"/>
<ellipse cx="581.56" cy="719.80" rx="2.8" ry="2.1" fill="#000"/>
<line x1="600.67" y1="718.60" x2="600.67" y2="723.20" stroke="#000" stroke-width="1.3"/>
<line x1="597.47" y1="718.60" x2="603.87" y2="718.60" stroke="#000" stroke-width="1.3"/>
<line x1="597.47" y1="722.40" x2="603.87" y2="722.40" stroke="#000" stroke-width="1.3"/>
<path d="M596.37,718.00 L600.67,718.80 L604.97,719.80" stroke="#000" stroke-width="3.4" stroke-linecap="round" stroke-linejoin="round" fill="none"/>
<ellipse cx="596.37" cy="718.00" rx="2.8" ry="2.1" fill="#000"/>
<ellipse cx="600.67" cy="718.80" rx="2.8" ry="2.1" fill="#000"/>
<ellipse cx="604.97" cy="719.80" rx="2.8" ry="2.1" fill="#000"/>
<line x1="624.08" y1="676.80" x2="624.08" y2="684.20" stroke="#000" stroke-width="1.3"/>
<line x1="620.88" y1="676.80" x2="627.28" y2="676.80" stroke="#000" stroke-width="1.3"/>
<line x1="620.88" y1="683.40" x2="627.28" y2="683.40" stroke="#000" stroke-width="1.3"/>
<path d="M619.58,676.60 L624.28,679.30 L628.08,682.00" stroke="#000" stroke-width="3.4" stroke-linecap="round" stroke-linejoin="round" fill="none"/>
<ellipse cx="619.58" cy="676.60" rx="2.8" ry="2.1" fill="#000"/>
<ellipse cx="624.28" cy="679.30" rx="2.8" ry="2.1" fill="#000"/>
<ellipse cx="628.08" cy="682.00" rx="2.8" ry="2.1" fill="#000"/>
<line x1="647.49" y1="629.90" x2="647.49" y2="638.90" stroke="#000" stroke-width="1.3"/>
<line x1="644.29" y1="629.90" x2="650.69" y2="629.90" stroke="#000" stroke-width="1.3"/>
<line x1="644.29" y1="638.10" x2="650.69" y2="638.10" stroke="#000" stroke-width="1.3"/>
<ellipse cx="647.69" cy="628.10" rx="2.8" ry="2.1" fill="#000"/>
<ellipse cx="642.49" cy="633.60" rx="2.8" ry="2.1" fill="#000"/>
<ellipse cx="650.99" cy="639.10" rx="2.8" ry="2.1" fill="#000"/>
<text x="0" y="0" font-size="8.7" text-anchor="end" font-weight="bold" fill="#000" stroke="#000" stroke-width="0.2" transform="translate(440.10 746.20) scale(1.4 1) rotate(-45)">Control</text>
<text x="0" y="0" font-size="8.7" text-anchor="end" font-weight="bold" fill="#000" stroke="#000" stroke-width="0.2" transform="translate(463.51 746.20) scale(1.4 1) rotate(-45)">NaCl</text>
<text x="0" y="0" font-size="8.7" text-anchor="end" font-weight="bold" fill="#000" stroke="#000" stroke-width="0.2" transform="translate(486.92 746.20) scale(1.4 1) rotate(-45)">KCl</text>
<text x="0" y="0" font-size="8.7" text-anchor="end" font-weight="bold" fill="#000" stroke="#000" stroke-width="0.2" transform="translate(510.33 746.20) scale(1.4 1) rotate(-45)">CaCl<tspan font-size="5.6" dy="1.4">2</tspan></text>
<text x="0" y="0" font-size="8.7" text-anchor="end" font-weight="bold" fill="#000" stroke="#000" stroke-width="0.2" transform="translate(533.74 746.20) scale(1.4 1) rotate(-45)">MgSO<tspan font-size="5.6" dy="1.4">4</tspan></text>
<text x="0" y="0" font-size="8.7" text-anchor="end" font-weight="bold" fill="#000" stroke="#000" stroke-width="0.2" transform="translate(557.15 746.20) scale(1.4 1) rotate(-45)">BaCl<tspan font-size="5.6" dy="1.4">2</tspan></text>
<text x="0" y="0" font-size="8.7" text-anchor="end" font-weight="bold" fill="#000" stroke="#000" stroke-width="0.2" transform="translate(580.56 746.20) scale(1.4 1) rotate(-45)">CdCl<tspan font-size="5.6" dy="1.4">2</tspan></text>
<text x="0" y="0" font-size="8.7" text-anchor="end" font-weight="bold" fill="#000" stroke="#000" stroke-width="0.2" transform="translate(603.97 746.20) scale(1.4 1) rotate(-45)">CuSO<tspan font-size="5.6" dy="1.4">4</tspan></text>
<text x="0" y="0" font-size="8.7" text-anchor="end" font-weight="bold" fill="#000" stroke="#000" stroke-width="0.2" transform="translate(627.38 746.20) scale(1.4 1) rotate(-45)">Zn(CH<tspan font-size="5.6" dy="1.4">3</tspan><tspan dy="-1.4">CO</tspan><tspan font-size="5.6" dy="1.4">2</tspan><tspan dy="-1.4">)2</tspan></text>
<text x="0" y="0" font-size="8.7" text-anchor="end" font-weight="bold" fill="#000" stroke="#000" stroke-width="0.2" transform="translate(650.79 746.20) scale(1.4 1) rotate(-45)">FeSO<tspan font-size="5.6" dy="1.4">4</tspan></text>
<text x="542.50" y="800.00" font-size="10.4" text-anchor="middle" font-weight="bold" fill="#000" textLength="63.40" lengthAdjust="spacingAndGlyphs" stroke="#000" stroke-width="0.15">Metal ions</text>
<path d="M427.0,658.7 L427.0,604.3 L647.8,604.3 L647.8,613.8" fill="none" stroke="#111" stroke-width="1.4"/>
<path d="M522.25,597.00 L527.85,597.00 M523.26,594.70 L526.84,599.30 M526.84,594.70 L523.26,599.30" stroke="#111" stroke-width="1.15" fill="none"/>
<path d="M530.35,597.00 L535.95,597.00 M531.36,594.70 L534.94,599.30 M534.94,594.70 L531.36,599.30" stroke="#111" stroke-width="1.15" fill="none"/>
<path d="M538.45,597.00 L544.05,597.00 M539.46,594.70 L543.04,599.30 M543.04,594.70 L539.46,599.30" stroke="#111" stroke-width="1.15" fill="none"/>
<path d="M546.55,597.00 L552.15,597.00 M547.56,594.70 L551.14,599.30 M551.14,594.70 L547.56,599.30" stroke="#111" stroke-width="1.15" fill="none"/>
<path d="M433.0,655.6 L433.0,624.2 L577.3,624.2 L577.3,689.2" fill="none" stroke="#111" stroke-width="1.4"/>
<line x1="553.00" y1="689.20" x2="601.80" y2="689.20" stroke="#111" stroke-width="1.4"/>
<path d="M490.25,616.60 L495.85,616.60 M491.26,614.30 L494.84,618.90 M494.84,614.30 L491.26,618.90" stroke="#111" stroke-width="1.15" fill="none"/>
<path d="M498.38,616.60 L503.98,616.60 M499.39,614.30 L502.97,618.90 M502.97,614.30 L499.39,618.90" stroke="#111" stroke-width="1.15" fill="none"/>
<path d="M506.51,616.60 L512.11,616.60 M507.52,614.30 L511.10,618.90 M511.10,614.30 L507.52,618.90" stroke="#111" stroke-width="1.15" fill="none"/>
<path d="M514.64,616.60 L520.24,616.60 M515.65,614.30 L519.23,618.90 M519.23,614.30 L515.65,618.90" stroke="#111" stroke-width="1.15" fill="none"/>
<path d="M437.0,658.0 L437.0,644.2 L483.6,644.2 L483.6,650.3" fill="none" stroke="#111" stroke-width="1.4"/>
<path d="M449.05,636.50 L454.65,636.50 M450.06,634.20 L453.64,638.80 M453.64,634.20 L450.06,638.80" stroke="#111" stroke-width="1.15" fill="none"/>
<path d="M457.35,636.50 L462.95,636.50 M458.36,634.20 L461.94,638.80 M461.94,634.20 L458.36,638.80" stroke="#111" stroke-width="1.15" fill="none"/>
<path d="M465.65,636.50 L471.25,636.50 M466.66,634.20 L470.24,638.80 M470.24,634.20 L466.66,638.80" stroke="#111" stroke-width="1.15" fill="none"/>
</svg></body></html>
